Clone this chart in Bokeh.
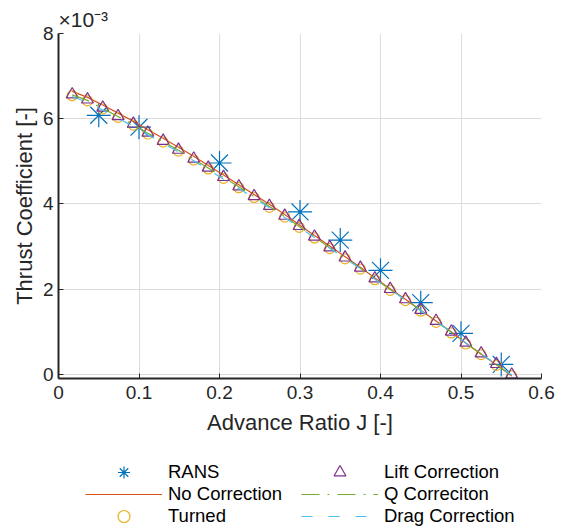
from bokeh.plotting import figure
from bokeh.layouts import column
from bokeh.models import Range1d, FixedTicker, Legend, LegendItem
from bokeh.embed import file_html
from bokeh.resources import INLINE

# Data (thrust coefficient in units of 1e-3)
j_model = [0.017, 0.036, 0.055, 0.074, 0.093, 0.111, 0.130, 0.149, 0.168, 0.186,
           0.205, 0.224, 0.243, 0.262, 0.281, 0.299, 0.318, 0.337, 0.356, 0.375,
           0.393, 0.412, 0.431, 0.450, 0.469, 0.488, 0.506, 0.525, 0.544, 0.563]
no_correction = [6.64, 6.50, 6.32, 6.13, 5.94, 5.74, 5.54, 5.33, 5.12, 4.90,
                 4.68, 4.45, 4.22, 3.99, 3.75, 3.51, 3.26, 3.01, 2.76, 2.51,
                 2.26, 2.01, 1.76, 1.50, 1.25, 0.99, 0.73, 0.47, 0.22, -0.04]
turned = [6.54, 6.42, 6.23, 6.03, 5.85, 5.64, 5.45, 5.24, 5.03, 4.82,
          4.60, 4.38, 4.15, 3.92, 3.69, 3.45, 3.20, 2.95, 2.71, 2.47,
          2.22, 1.97, 1.73, 1.48, 1.22, 0.97, 0.71, 0.46, 0.21, -0.04]
lift_correction = [6.57, 6.45, 6.26, 6.06, 5.88, 5.67, 5.48, 5.27, 5.06, 4.85,
                   4.63, 4.41, 4.18, 3.95, 3.72, 3.48, 3.23, 2.98, 2.74, 2.50,
                   2.25, 2.00, 1.76, 1.51, 1.25, 1.00, 0.74, 0.49, 0.24, -0.01]
q_correction = [6.56, 6.43, 6.24, 6.05, 5.86, 5.66, 5.46, 5.26, 5.05, 4.84,
                4.62, 4.40, 4.17, 3.94, 3.71, 3.47, 3.22, 2.97, 2.73, 2.49,
                2.24, 1.99, 1.75, 1.50, 1.24, 0.99, 0.73, 0.48, 0.23, -0.02]
drag_correction = [6.52, 6.38, 6.20, 6.01, 5.82, 5.62, 5.42, 5.22, 5.01, 4.80,
                   4.58, 4.36, 4.14, 3.91, 3.68, 3.45, 3.21, 2.96, 2.72, 2.48,
                   2.23, 1.99, 1.74, 1.49, 1.24, 0.99, 0.74, 0.48, 0.23, -0.02]
j_rans = [0.05, 0.1, 0.2, 0.3, 0.35, 0.4, 0.45, 0.5, 0.55]
rans = [6.08, 5.80, 4.96, 3.81, 3.15, 2.44, 1.68, 0.96, 0.23]

x_ticks = [0, 0.1, 0.2, 0.3, 0.4, 0.5, 0.6]
x_tick_labels = ["0", "0.1", "0.2", "0.3", "0.4", "0.5", "0.6"]
y_ticks = [0, 2, 4, 6, 8]

FONT = "Liberation Sans"
AX = "#262626"
C_RANS, C_NO, C_TURN = "#0072BD", "#D95319", "#EDB120"
C_LIFT, C_Q, C_DRAG = "#7E2F8E", "#77AC30", "#4DBEEE"
DASH_Q, DASH_DRAG = "18 8 2 8", "11 16"


def draw_series(fig):
    rs = fig.scatter(j_rans, rans, marker="asterisk", size=24, line_color=C_RANS,
                     line_width=1.2)
    rn = fig.line(j_model, no_correction, line_color=C_NO, line_width=1.2)
    rt = fig.scatter(j_model, turned, marker="circle", size=10, line_color=C_TURN,
                     fill_color=None, line_width=1.2)
    rl = fig.scatter(j_model, lift_correction, marker="triangle", size=12,
                     line_color=C_LIFT, fill_color=None, line_width=1.2)
    rq = fig.line(j_model, q_correction, line_color=C_Q, line_width=1.2,
                  line_dash=DASH_Q)
    rd = fig.line(j_model, drag_correction, line_color=C_DRAG, line_width=1.2,
                  line_dash=DASH_DRAG)
    return rs, rn, rt, rl, rq, rd


p = figure(width=562, height=440, output_backend="svg", toolbar_location=None,
           x_range=Range1d(0, 0.6), y_range=Range1d(-0.1, 8),
           min_border_left=58, min_border_right=21, min_border_top=33,
           min_border_bottom=62, title="\u00d710\u207b\u00b3")
p.outline_line_color = None
p.title.text_font = FONT
p.title.text_font_size = "21px"
p.title.text_font_style = "normal"
p.title.text_color = AX
p.title.align = "left"
p.title.offset = 0
p.title.standoff = 5

for ax in (p.xaxis[0], p.yaxis[0]):
    ax.axis_line_color = AX
    ax.axis_line_width = 2
    ax.major_tick_line_color = AX
    ax.major_tick_line_width = 1
    ax.major_tick_in = 5
    ax.major_tick_out = 0
    ax.minor_tick_line_color = None
    ax.major_label_text_font = FONT
    ax.major_label_text_font_size = "19px"
    ax.major_label_text_color = AX
    ax.axis_label_text_font = FONT
    ax.axis_label_text_font_size = "22px"
    ax.axis_label_text_font_style = "normal"
    ax.axis_label_text_color = AX

p.xaxis[0].ticker = FixedTicker(ticks=x_ticks)
p.xaxis[0].major_label_overrides = {t: s for t, s in zip(x_ticks, x_tick_labels)}
p.yaxis[0].ticker = FixedTicker(ticks=y_ticks)
p.xaxis[0].axis_label = "Advance Ratio J [-]"
p.yaxis[0].axis_label = "Thrust Coefficient [-]"
p.xaxis[0].major_label_standoff = 7
p.xaxis[0].axis_label_standoff = 8
p.yaxis[0].major_label_standoff = 5
p.yaxis[0].axis_label_standoff = 3

p.xgrid[0].ticker = FixedTicker(ticks=x_ticks)
p.ygrid[0].ticker = FixedTicker(ticks=y_ticks)
for g in (p.xgrid[0], p.ygrid[0]):
    g.grid_line_color = "#dcdcdc"
    g.grid_line_width = 1

draw_series(p)

# Legend strip below the axes (series drawn outside its visible range)
q = figure(width=562, height=88, output_backend="svg", toolbar_location=None,
           x_range=Range1d(10, 11), y_range=Range1d(10, 11),
           min_border_left=58, min_border_right=21, min_border_top=0,
           min_border_bottom=0)
q.outline_line_color = None
q.xaxis.visible = False
q.yaxis.visible = False
q.grid.visible = False
l_rans, l_no, l_turn, l_lift, l_q, l_drag = draw_series(q)

legend_entries = [("RANS", l_rans), ("No Correction", l_no), ("Turned", l_turn),
                  ("Lift Correction", l_lift), ("Q Correciton", l_q),
                  ("Drag Correction", l_drag)]
col_x = [27, 243]
row_y = [41, 19, -3]

for i, (lab, rend) in enumerate(legend_entries):
    q.add_layout(Legend(items=[LegendItem(label=lab, renderers=[rend])],
                        location=(col_x[i // 3], row_y[i % 3]),
                        label_text_font=FONT, label_text_font_size="18.5px",
                        label_text_color="black", glyph_width=77, glyph_height=30,
                        label_height=22, label_standoff=6, spacing=0, padding=0,
                        margin=0, border_line_color=None,
                        background_fill_alpha=0), "center")

layout = column(p, q, spacing=0)
open("out.html", "w").write(file_html(layout, INLINE))
